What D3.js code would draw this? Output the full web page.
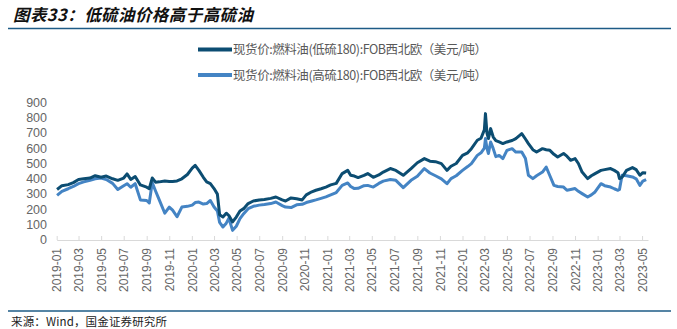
<!DOCTYPE html>
<html><head><meta charset="utf-8">
<script src="https://cdn.jsdelivr.net/npm/d3@7"></script>
<style>
body{margin:0;background:#fff;}
svg{display:block;}
</style></head>
<body><svg id="c" width="677" height="329"></svg>
<script>
const dates = ["2019-01-02","2019-01-15","2019-02-01","2019-02-15","2019-03-01","2019-03-15","2019-04-01","2019-04-15","2019-05-01","2019-05-15","2019-06-01","2019-06-15","2019-07-01","2019-07-10","2019-07-20","2019-08-01","2019-08-15","2019-09-01","2019-09-08","2019-09-16","2019-09-25","2019-10-05","2019-10-20","2019-11-01","2019-11-10","2019-11-22","2019-12-05","2019-12-20",
"2020-01-02","2020-01-10","2020-01-20","2020-02-01","2020-02-10","2020-02-20","2020-03-01","2020-03-10","2020-03-16","2020-03-25","2020-04-03","2020-04-10","2020-04-20","2020-04-30","2020-05-10","2020-05-20","2020-06-01","2020-06-15","2020-07-01","2020-07-15","2020-08-01","2020-08-15","2020-09-01","2020-09-10","2020-09-25","2020-10-10","2020-10-25","2020-11-05","2020-11-20","2020-12-01","2020-12-15","2020-12-28",
"2021-01-10","2021-01-25","2021-02-10","2021-02-25","2021-03-05","2021-03-15","2021-03-25","2021-04-10","2021-04-20","2021-05-05","2021-05-20","2021-06-01","2021-06-20","2021-07-05","2021-07-25","2021-08-15","2021-09-01","2021-09-20","2021-10-05","2021-10-20","2021-11-05","2021-11-20","2021-12-01","2021-12-15",
"2022-01-01","2022-01-15","2022-01-25","2022-02-10","2022-02-20","2022-03-01","2022-03-04","2022-03-08","2022-03-12","2022-03-18","2022-03-25","2022-04-01","2022-04-10","2022-04-20","2022-05-01","2022-05-15","2022-05-25","2022-06-10","2022-06-20","2022-06-28","2022-07-10","2022-07-20","2022-08-05","2022-08-15","2022-08-25","2022-09-05","2022-09-15","2022-10-01","2022-10-10","2022-10-20","2022-11-01","2022-11-10","2022-11-20","2022-12-05","2022-12-15","2022-12-25",
"2023-01-10","2023-01-20","2023-02-05","2023-02-15","2023-02-25","2023-03-01","2023-03-08","2023-03-20","2023-04-05","2023-04-15","2023-04-25","2023-05-03","2023-05-12"];
const lowSulfur = [330,355,362,375,395,400,405,420,410,418,400,390,405,432,396,415,360,345,335,405,378,380,386,383,382,386,400,428,
470,488,455,410,380,368,336,300,165,150,175,160,118,150,190,205,238,255,262,265,272,281,262,255,275,270,262,295,315,325,335,346,
360,370,434,455,423,418,408,422,434,410,425,444,467,455,423,467,505,532,515,512,499,455,482,500,
553,570,597,652,665,720,826,700,663,728,673,650,641,630,641,650,663,695,660,630,590,575,597,590,586,560,542,565,548,521,532,500,444,401,420,434,
455,460,467,455,440,401,410,455,473,460,423,440,438];
const highSulfur = [292,318,335,350,368,380,390,400,405,395,370,330,355,368,345,368,262,258,242,375,320,262,175,215,195,152,215,220,
228,245,248,235,238,258,216,190,115,85,110,142,63,90,140,172,205,220,228,232,238,248,225,215,212,230,233,245,255,262,272,282,
295,310,357,373,350,336,338,355,357,346,370,385,395,390,342,390,416,467,438,420,400,368,401,420,
455,480,499,553,570,600,663,600,565,641,597,545,553,532,586,597,575,575,532,423,401,420,444,477,420,357,350,346,325,330,336,318,303,281,295,314,
368,355,346,335,325,330,423,420,412,400,357,385,395];
const seriesNames = ["现货价:燃料油(低硫180):FOB西北欧（美元/吨）","现货价:燃料油(高硫180):FOB西北欧（美元/吨）"];
const seriesColors = ["#0c4d72","#4484c4"];
const yTicks = [0,100,200,300,400,500,600,700,800,900];
const title = "图表33：低硫油价格高于高硫油";
const source = "来源：Wind，国金证券研究所";

const svg = d3.select("#c");
const parse = d3.timeParse("%Y-%m-%d");
const x = d3.scaleTime().domain([parse("2019-01-01"), parse("2023-05-17")]).range([56.7, 648]);
const y = d3.scaleLinear().domain([0, 900]).range([240, 102.3]);

// title
svg.append("text").attr("x", 13).attr("y", 21)
  .attr("font-family", "Noto Sans CJK SC").attr("font-size", 16.5).attr("font-weight", "bold")
  .attr("font-style", "italic").attr("textLength", 240).attr("lengthAdjust", "spacing")
  .attr("fill", "#111").text(title);
svg.append("line").attr("x1", 8).attr("x2", 671).attr("y1", 28.5).attr("y2", 28.5)
  .attr("stroke", "#1d5b86").attr("stroke-width", 1.5);

// legend
seriesNames.forEach((n, i) => {
  const ly = 49.5 + i * 25.5;
  svg.append("line").attr("x1", 198).attr("x2", 232).attr("y1", ly).attr("y2", ly)
    .attr("stroke", seriesColors[i]).attr("stroke-width", 4);
  svg.append("text").attr("x", 233).attr("y", ly + 4.5)
    .attr("font-family", "Noto Sans CJK SC, Liberation Sans").attr("font-size", 12.5)
    .attr("textLength", 254).attr("lengthAdjust", "spacing")
    .attr("fill", "#595959").text(n);
});

// y axis labels
svg.append("g").selectAll("text").data(yTicks).join("text")
  .attr("x", 47).attr("y", d => y(d) + 4.3).attr("text-anchor", "end")
  .attr("font-family", "Liberation Sans, Arial").attr("font-size", 12.5).attr("fill", "#666")
  .text(d => d);

// x axis
const xAxis = d3.axisBottom(x).ticks(d3.timeMonth.every(2)).tickFormat(d3.timeFormat("%Y-%m"))
  .tickSizeInner(-4).tickSizeOuter(0).tickPadding(8);
const gx = svg.append("g").attr("transform", "translate(0,240)").call(xAxis);
gx.select(".domain").attr("stroke", "#d9d9d9");
gx.selectAll(".tick line").attr("stroke", "#d9d9d9");
gx.selectAll(".tick text")
  .attr("font-family", "Liberation Sans, Arial").attr("font-size", 12).attr("fill", "#666")
  .attr("transform", "rotate(-90)").attr("text-anchor", "end").attr("dy", "0.35em")
  .attr("x", -8).attr("y", 0);

// lines
const rows = dates.map((d, i) => ({ d: parse(d), lo: lowSulfur[i], hi: highSulfur[i] }));
const lineHi = d3.line().x(r => x(r.d)).y(r => y(r.hi));
const lineLo = d3.line().x(r => x(r.d)).y(r => y(r.lo));
svg.append("path").datum(rows).attr("d", lineHi).attr("fill", "none")
  .attr("stroke", seriesColors[1]).attr("stroke-width", 3).attr("stroke-linejoin", "round");
svg.append("path").datum(rows).attr("d", lineLo).attr("fill", "none")
  .attr("stroke", seriesColors[0]).attr("stroke-width", 3).attr("stroke-linejoin", "round");

// bottom rule & source
svg.append("line").attr("x1", 8).attr("x2", 671).attr("y1", 311).attr("y2", 311)
  .attr("stroke", "#1d5b86").attr("stroke-width", 1.5);
svg.append("text").attr("x", 11).attr("y", 326)
  .attr("font-family", "Noto Sans CJK SC").attr("font-size", 11.5).attr("fill", "#222")
  .attr("textLength", 156).attr("lengthAdjust", "spacing").text(source);
</script></body></html>
